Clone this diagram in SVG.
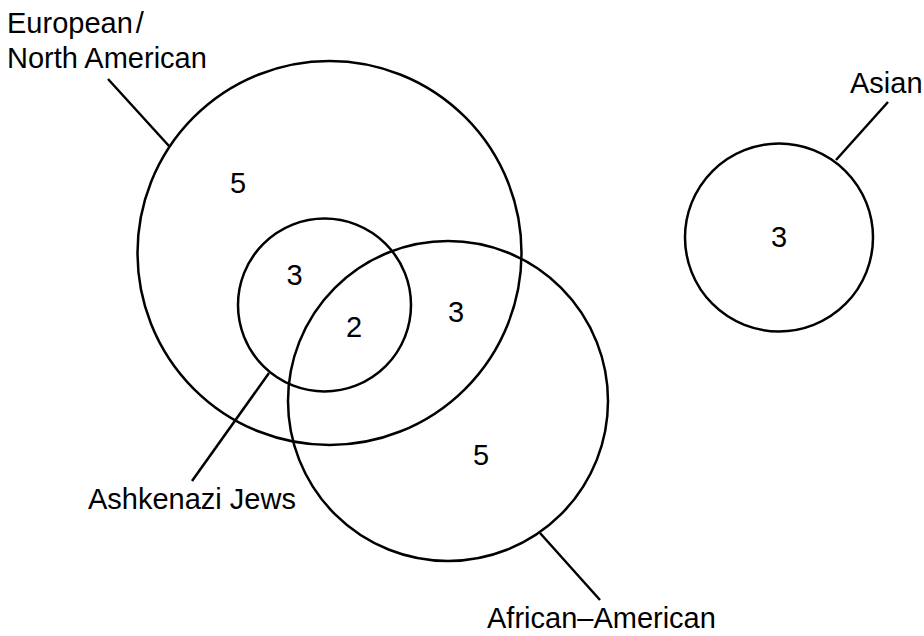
<svg xmlns="http://www.w3.org/2000/svg" width="924" height="636" viewBox="0 0 924 636">
<style>
.c{fill:none;stroke:#000;stroke-width:2.5}
.l{stroke:#000;stroke-width:2.5;fill:none}
text{font-family:"Liberation Sans",Arial,sans-serif;font-size:29px;fill:#000}
.n{text-anchor:middle}
</style>
<rect width="924" height="636" fill="#fff"/>
<g id="connectors">
<line class="l" x1="108" y1="79" x2="169" y2="146"/>
<line class="l" x1="888" y1="102" x2="836" y2="160"/>
<line class="l" x1="269" y1="373" x2="192" y2="481"/>
<line class="l" x1="540" y1="533" x2="600" y2="600"/>
</g>
<g id="european">
<circle class="c" cx="329.5" cy="253" r="192"/>
<text x="7" y="33">European<tspan dx="3">/</tspan></text>
<text x="7" y="68">North American</text>
<text class="n" x="238" y="193">5</text>
</g>
<g id="ashkenazi">
<circle class="c" cx="324.5" cy="305" r="86.5"/>
<text x="88" y="509">Ashkenazi Jews</text>
<text class="n" x="294.5" y="285">3</text>
<text class="n" x="354" y="337">2</text>
</g>
<g id="african">
<circle class="c" cx="448" cy="401" r="160"/>
<text x="487" y="628">African–American</text>
<text class="n" x="456" y="322">3</text>
<text class="n" x="481" y="465">5</text>
</g>
<g id="asian">
<circle class="c" cx="779" cy="237.5" r="94"/>
<text x="850" y="93">Asian</text>
<text class="n" x="779" y="247">3</text>
</g>
</svg>
